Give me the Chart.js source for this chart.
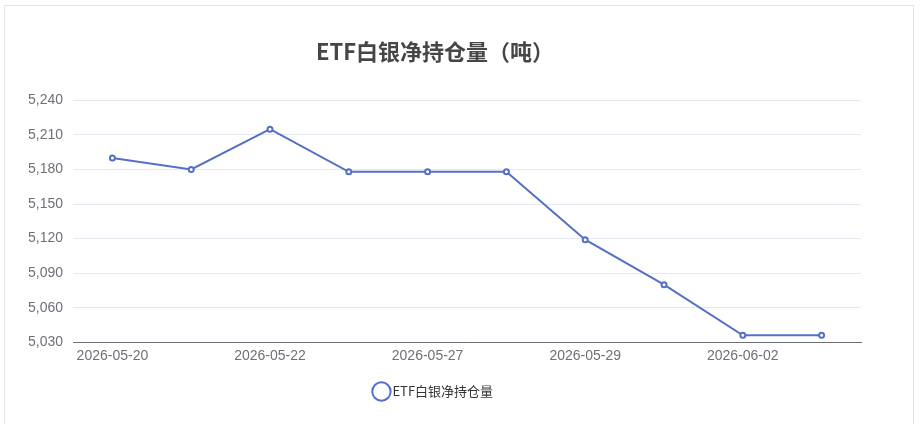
<!DOCTYPE html>
<html>
<head>
<meta charset="utf-8">
<script src="https://cdn.jsdelivr.net/npm/chart.js@4/dist/chart.umd.min.js"></script>
<style>
  body { margin: 0; background: #fff; font-family: "Noto Sans CJK SC", "Noto Sans", sans-serif; }
  #card { position: absolute; left: 4px; top: 5px; width: 910px; height: 430px; border: 1px solid #e4e4e4; box-sizing: border-box; }
  #clip { position: absolute; left: 29px; top: 0; width: 891px; height: 424px; overflow: hidden; }
  #wrap { position: absolute; left: -20px; top: 0; width: 900px; height: 424px; }
</style>
</head>
<body>
<div id="card"></div>
<div id="clip"><div id="wrap"><canvas id="silverChart"></canvas></div></div>
<script>
const dates = ["2026-05-20", "2026-05-21", "2026-05-22", "2026-05-26", "2026-05-27",
  "2026-05-28", "2026-05-29", "2026-06-01", "2026-06-02", "2026-06-03"];
const holdings = [15190, 15180, 15215, 15178, 15178, 15178, 15119, 15080, 15036, 15036];
const yMin = 15030;
const yMax = 15240;
const yStep = 30;

const ctx = document.getElementById("silverChart").getContext("2d");
const silverChart = new Chart(ctx, {
  type: "line",
  data: {
    labels: dates,
    datasets: [
      {
        label: "ETF白银净持仓量",
        data: holdings,
        borderColor: "#5470c6",
        backgroundColor: "#fff",
        borderWidth: 2,
        pointRadius: 2.5,
        pointBorderWidth: 2,
        pointBorderColor: "#5470c6",
        pointBackgroundColor: "#fff",
        tension: 0,
      },
    ],
  },
  options: {
    animation: false,
    responsive: true,
    maintainAspectRatio: false,
    layout: { padding: { left: 0, right: 48, top: 0, bottom: 16 } },
    plugins: {
      title: {
        display: true,
        text: "ETF白银净持仓量（吨）",
        color: "#464646",
        font: { size: 22, weight: "bold", family: "Noto Sans CJK SC" },
        padding: { top: 38, bottom: 36 },
      },
      legend: {
        position: "bottom",
        labels: {
          color: "#333",
          font: { size: 13, family: "Noto Sans CJK SC" },
          usePointStyle: true,
          pointStyle: "circle",
          boxWidth: 9,
          padding: 14,
        },
      },
      tooltip: { enabled: false },
    },
    scales: {
      x: {
        offset: true,
        grid: { display: false, drawTicks: false },
        border: { color: "#6e7079" },
        ticks: {
          color: "#6e7079",
          font: { size: 14 },
          padding: 6,
          maxRotation: 0,
          autoSkip: false,
          callback: function (value, index) {
            return index % 2 === 0 ? dates[index] : "";
          },
        },
      },
      y: {
        min: yMin,
        max: yMax,
        grid: { color: "#e6e9f2", drawTicks: false },
        border: { display: false },
        afterFit: function (scale) { scale.width = 64; },
        ticks: {
          stepSize: yStep,
          color: "#6e7079",
          font: { size: 14 },
          padding: 10,
          callback: function (value) { return value.toLocaleString("en-US"); },
        },
      },
    },
  },
});
</script>
</body>
</html>
